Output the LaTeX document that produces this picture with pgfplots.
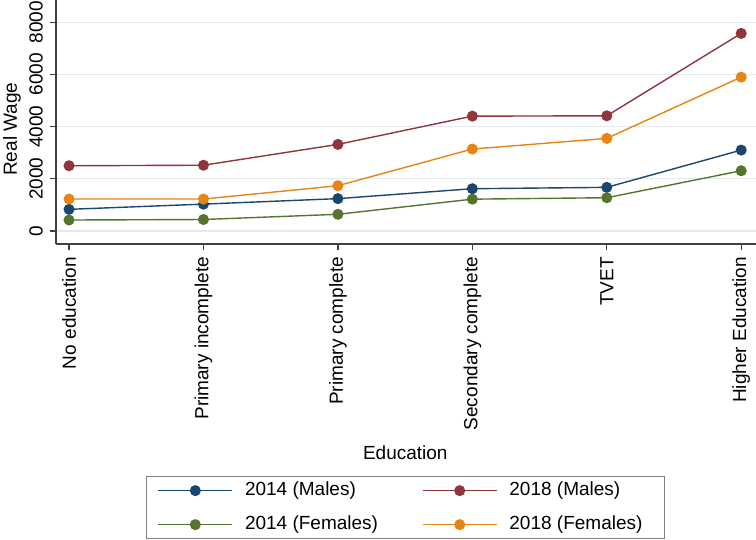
\documentclass[border=0pt]{standalone}
\usepackage{pgfplots}
\pgfplotsset{compat=1.18}
\usepackage{fontspec}
\setmainfont{Liberation Sans}
\definecolor{snavy}{RGB}{26,71,111}
\definecolor{smaroon}{RGB}{144,53,59}
\definecolor{sgreen}{RGB}{85,117,47}
\definecolor{sorange}{RGB}{230,132,20}
\definecolor{sgrid}{RGB}{226,234,236}
\newcommand{\lt}[1]{\makebox[72pt][l]{#1}}
\begin{document}
\begin{tikzpicture}
\useasboundingbox (-28pt,-148pt) rectangle (350pt,122pt);
\begin{axis}[
  at={(0,0)}, anchor=south west,
  scale only axis, width=350pt, height=122pt,
  font=\fontsize{9.5}{11}\selectfont,
  axis lines=left, axis line style={-, line width=0.7pt, black!75},
  xmin=-0.097, xmax=5.11, ymin=-498, ymax=8850,
  xtick={0,1,2,3,4,5},
  xticklabels={No education,Primary incomplete,Primary complete,Secondary complete,TVET,Higher Education},
  ytick={0,2000,4000,6000,8000},
  yticklabels={0,2000,4000,6000,8000},
  tick align=outside, major tick length=3pt,
  tick style={line width=0.6pt, black!75},
  xticklabel style={rotate=90, anchor=east},
  yticklabel style={rotate=90, anchor=south},
  ymajorgrids, grid style={sgrid, line width=0.6pt},
  ylabel={Real Wage},
  ylabel style={at={(axis description cs:-0.063,0.471)}, anchor=center},
  xlabel={Education},
  xlabel style={at={(axis description cs:0.499,-0.857)}, anchor=center},
  every axis plot/.append style={line width=0.7pt, mark=*, mark size=2.4pt},
  legend columns=2,
  legend cell align=left,
  legend style={at={(axis description cs:0.1286,-0.951)}, anchor=north west,
    draw=black!50, line width=0.6pt, inner xsep=5.5pt, inner ysep=2.5pt,
    nodes={inner sep=0pt, text height=7pt, text depth=2pt},
    row sep=8pt,
    /tikz/every odd column/.append style={column sep=6pt},
    /tikz/every even column/.append style={column sep=16.5pt},
    font=\fontsize{9.5}{11}\selectfont},
  legend image code/.code={
    \draw[mark repeat=2, mark phase=2] plot coordinates {(0pt,0pt) (18.5pt,0pt) (37pt,0pt)};
  },
]
\addplot[color=snavy, mark options={fill=snavy, draw=snavy}] coordinates {(0,830) (1,1030) (2,1240) (3,1620) (4,1672) (5,3100)};
\addlegendentry{\lt{2014 (Males)}}
\addplot[color=smaroon, mark options={fill=smaroon, draw=smaroon}] coordinates {(0,2500) (1,2520) (2,3318) (3,4400) (4,4413) (5,7570)};
\addlegendentry{\lt{2018 (Males)}}
\addplot[color=sgreen, mark options={fill=sgreen, draw=sgreen}] coordinates {(0,421) (1,440) (2,640) (3,1220) (4,1275) (5,2308)};
\addlegendentry{\lt{2014 (Females)}}
\addplot[color=sorange, mark options={fill=sorange, draw=sorange}] coordinates {(0,1225) (1,1225) (2,1735) (3,3140) (4,3548) (5,5895)};
\addlegendentry{\lt{2018 (Females)}}
\end{axis}
\end{tikzpicture}
\end{document}
